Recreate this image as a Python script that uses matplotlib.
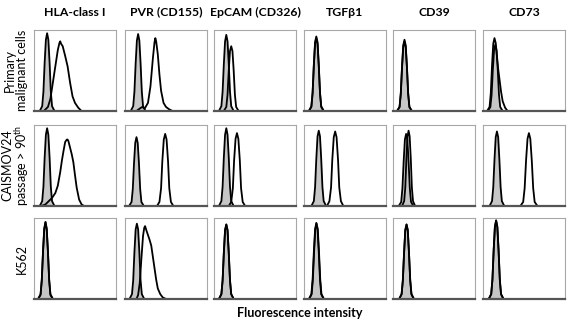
import matplotlib
matplotlib.use("Agg")
import matplotlib.pyplot as plt

plt.rcParams['font.family'] = ['Lato', 'DejaVu Sans']

# column and row labels
markers = ["HLA-class I", "PVR (CD155)", "EpCAM (CD326)", "TGFβ1", "CD39", "CD73"]
cells = ["Primary\nmalignant cells", "CAISMOV24\npassage > 90$^{\\mathregular{th}}$", "K562"]
xlabel = "Fluorescence intensity"

# histogram outlines: (intensity %, count %)
# isotype control (grey, filled) and marker staining (black line)
prim_hla_iso = [(7, 0), (10, 6), (11.5, 24), (13, 60), (14.5, 88), (16, 96), (17.5, 88), (19, 60), (20.5, 24), (22, 6), (25, 0)]
prim_hla_pos = [(12, 0), (17, 5), (20, 15), (23, 35), (26, 55), (29, 75), (31, 84), (32, 86), (33, 83), (35, 80),
                (38, 68), (41, 55), (44, 35), (47, 18), (50, 10), (54, 4), (58, 0)]
prim_pvr_iso = [(7, 0), (10, 6), (11.5, 24), (13, 59), (14.5, 87), (16, 95), (17.5, 87), (19, 59), (20.5, 24), (22, 6), (25, 0)]
prim_pvr_pos = [(14, 0), (18, 3), (21, 5), (24, 3), (28, 10), (31, 30), (34, 65), (36, 85), (37, 90), (38, 86),
                (40, 70), (42, 45), (44, 25), (47, 10), (50, 5), (54, 2), (58, 0)]
prim_epcam_iso = [(6, 0), (9, 6), (10.5, 24), (12, 58), (13.5, 86), (15, 94), (16.5, 86), (18, 58), (19.5, 24), (21, 6), (24, 0)]
prim_epcam_pos = [(12, 0), (15, 5), (16.5, 20), (18, 50), (19.5, 74), (21, 80), (22.5, 74), (24, 50), (25.5, 20), (27, 5), (30, 0)]
prim_tgf_iso = [(6, 0), (9, 5), (10.5, 22), (12, 56), (13.5, 83), (15, 90), (16.5, 83), (18, 56), (19.5, 22), (21, 5), (24, 0)]
prim_tgf_pos = [(6, 0), (9, 6), (10.5, 23), (12, 57), (13.5, 85), (15, 92), (16.5, 85), (18, 57), (19.5, 23), (21, 6), (24, 0)]
prim_cd39_iso = [(5, 0), (8, 5), (9.5, 21), (11, 53), (12.5, 79), (14, 86), (15.5, 79), (17, 53), (18.5, 21), (20, 5), (23, 0)]
prim_cd39_pos = [(5, 0), (8, 5), (9.5, 22), (11, 55), (12.5, 81), (14, 88), (15.5, 81), (17, 55), (18.5, 22), (20, 5), (23, 0)]
prim_cd73_iso = [(6, 0), (9, 5), (10.5, 20), (12, 51), (13.5, 75), (15, 82), (16.5, 75), (18, 51), (19.5, 20), (21, 5), (24, 0)]
prim_cd73_pos = [(5, 0), (8, 5), (9.5, 22), (11, 56), (12.5, 83), (14, 90), (15.5, 84), (17, 68), (18.5, 52), (20, 40),
                 (22, 24), (24, 12), (27, 4), (30, 0)]

cais_hla_iso = [(7, 0), (10, 6), (11.5, 24), (13, 60), (14.5, 88), (16, 96), (17.5, 88), (19, 60), (20.5, 24), (22, 6), (25, 0)]
cais_hla_pos = [(9, 0), (14, 2), (18, 6), (22, 10), (26, 16), (29, 25), (32, 42), (34, 56), (36, 68), (38, 79), (40, 82),
                (41, 82), (42, 80), (44, 72), (46, 64), (48, 54), (50, 38), (52, 23), (55, 8), (58, 2), (61, 0)]
cais_pvr_iso = [(5, 0), (8, 5), (9.5, 21), (11, 53), (12.5, 78), (14, 85), (15.5, 78), (17, 53), (18.5, 21), (20, 5), (23, 0)]
cais_pvr_pos = [(39, 0), (42, 5), (44, 22), (45.5, 55), (47.3, 82), (49, 89), (50.7, 82), (52.5, 55), (54, 22), (56, 5), (59, 0)]
cais_epcam_iso = [(6, 0), (9, 6), (10.5, 24), (12, 60), (13.5, 88), (15, 96), (16.5, 88), (18, 60), (19.5, 24), (21, 6), (24, 0)]
cais_epcam_pos = [(18, 0), (21, 5), (23, 22), (24.5, 56), (26.3, 83), (28, 90), (29.7, 83), (31.5, 56), (33, 22), (35, 5), (38, 0)]
cais_tgf_iso = [(9, 0), (12, 6), (13.5, 23), (15, 58), (16.5, 86), (18, 93), (19.5, 86), (21, 58), (22.5, 23), (24, 6), (27, 0)]
cais_tgf_pos = [(28, 0), (31, 6), (33, 23), (34.5, 57), (36.3, 85), (38, 92), (39.7, 85), (41.5, 57), (43, 23), (45, 6), (48, 0)]
cais_cd39_iso = [(7, 0), (10, 5), (11.5, 22), (13, 55), (14.5, 82), (16, 89), (17.5, 82), (19, 55), (20.5, 22), (22, 5), (25, 0)]
cais_cd39_pos = [(11, 0), (13.6, 6), (15, 23), (16.3, 58), (17.7, 86), (19, 93), (20.3, 86), (21.7, 58), (23, 23), (24.4, 6), (27, 0)]
cais_cd73_iso = [(8, 0), (11, 6), (12.5, 23), (14, 57), (15.5, 85), (17, 92), (18.5, 85), (20, 57), (21.5, 23), (23, 6), (26, 0)]
cais_cd73_pos = [(45.6, 0), (49, 5), (50.8, 22), (52.5, 56), (54.3, 83), (56, 90), (57.7, 83), (59.5, 56), (61.2, 22), (63, 5), (66.4, 0)]

k562_hla_iso = [(5, 0), (8, 6), (9.5, 24), (11, 59), (12.5, 87), (14, 95), (15.5, 87), (17, 59), (18.5, 24), (20, 6), (23, 0)]
k562_hla_pos = [(5, 0), (8, 5), (9.5, 23), (11, 58), (12.5, 86), (14, 95), (15.5, 86), (17, 58), (18.5, 23), (20, 5), (23, 0)]
k562_pvr_iso = [(5.5, 0), (8.5, 6), (10, 23), (11.5, 58), (13, 86), (14.5, 93), (16, 86), (17.5, 58), (19, 23), (20.5, 6), (23.5, 0)]
k562_pvr_pos = [(14, 0), (16, 5), (18, 20), (20, 50), (22, 78), (23.5, 88), (24.5, 90), (26, 85), (28, 79), (30, 73),
                (32, 66), (34, 52), (36, 38), (38, 24), (40, 13), (43, 6), (46, 2), (50, 0)]
k562_epcam_iso = [(6, 0), (9, 6), (10.5, 23), (12, 57), (13.5, 85), (15, 92), (16.5, 85), (18, 57), (19.5, 23), (21, 6), (24, 0)]
k562_epcam_pos = [(6, 0), (9, 6), (10.5, 23), (12, 57), (13.5, 85), (15, 92), (16.5, 85), (18, 57), (19.5, 23), (21, 6), (24, 0)]
k562_tgf_iso = [(6, 0), (9, 6), (10.5, 24), (12, 58), (13.5, 86), (15, 94), (16.5, 86), (18, 58), (19.5, 24), (21, 6), (24, 0)]
k562_tgf_pos = [(6.3, 0), (9.3, 6), (10.8, 24), (12.3, 58), (13.8, 86), (15.3, 93), (16.8, 86), (18.3, 58), (19.8, 24), (21.3, 6), (24.3, 0)]
k562_cd39_iso = [(7.5, 0), (10.5, 6), (12, 23), (13.5, 57), (15, 85), (16.5, 92), (18, 85), (19.5, 57), (21, 23), (22.5, 6), (25.5, 0)]
k562_cd39_pos = [(7.5, 0), (10.5, 6), (12, 23), (13.5, 57), (15, 85), (16.5, 92), (18, 85), (19.5, 57), (21, 23), (22.5, 6), (25.5, 0)]
k562_cd73_iso = [(7, 0), (10, 6), (11.5, 24), (13, 60), (14.5, 89), (16, 97), (17.5, 89), (19, 60), (20.5, 24), (22, 6), (25, 0)]
k562_cd73_pos = [(7, 0), (10, 6), (11.5, 24), (13, 60), (14.5, 89), (16, 97), (17.5, 89), (19, 60), (20.5, 24), (22, 6), (25, 0)]

iso_grid = [
    [prim_hla_iso, prim_pvr_iso, prim_epcam_iso, prim_tgf_iso, prim_cd39_iso, prim_cd73_iso],
    [cais_hla_iso, cais_pvr_iso, cais_epcam_iso, cais_tgf_iso, cais_cd39_iso, cais_cd73_iso],
    [k562_hla_iso, k562_pvr_iso, k562_epcam_iso, k562_tgf_iso, k562_cd39_iso, k562_cd73_iso],
]
pos_grid = [
    [prim_hla_pos, prim_pvr_pos, prim_epcam_pos, prim_tgf_pos, prim_cd39_pos, prim_cd73_pos],
    [cais_hla_pos, cais_pvr_pos, cais_epcam_pos, cais_tgf_pos, cais_cd39_pos, cais_cd73_pos],
    [k562_hla_pos, k562_pvr_pos, k562_epcam_pos, k562_tgf_pos, k562_cd39_pos, k562_cd73_pos],
]

W, H = 567, 323
fig = plt.figure(figsize=(W / 100, H / 100), dpi=100)

col_left = [34, 125, 214, 304, 393, 483]
row_top = [30, 125, 218]
pw, ph = 82, 81

for r in range(3):
    for c in range(6):
        ax = fig.add_axes([col_left[c] / W, 1 - (row_top[r] + ph) / H, pw / W, ph / H])
        ix, iy = zip(*iso_grid[r][c])
        px, py = zip(*pos_grid[r][c])
        ax.fill_between(ix, iy, 0, color='#c6c6c6', lw=0)
        ax.plot(ix, iy, color='black', lw=1.3)
        ax.plot(px, py, color='black', lw=1.3)
        ax.set_xlim(0, 100)
        ax.set_ylim(0, 100)
        ax.set_xticks([])
        ax.set_yticks([])
        for s in ax.spines.values():
            s.set_color('#a8a8a8')
            s.set_linewidth(0.8)
        ax.spines['bottom'].set_color('#555555')
        ax.spines['bottom'].set_linewidth(1.6)

# column titles
for c, name in enumerate(markers):
    fig.text((col_left[c] + pw / 2) / W, 1 - 12 / H, name, ha='center', va='center',
             fontsize=8.8, fontweight='bold')

# row labels
row_mid = [row_top[r] + ph / 2 for r in range(3)]
for r, name in enumerate(cells):
    x = 16 if '\n' in name else 22
    fig.text(x / W, 1 - row_mid[r] / H, name, rotation=90, ha='center', va='center',
             multialignment='center', fontsize=9, linespacing=1.0)

fig.text(300 / W, 1 - 313 / H, xlabel, ha='center', va='center', fontsize=9, fontweight='bold')

fig.savefig('out.png', dpi=100)
